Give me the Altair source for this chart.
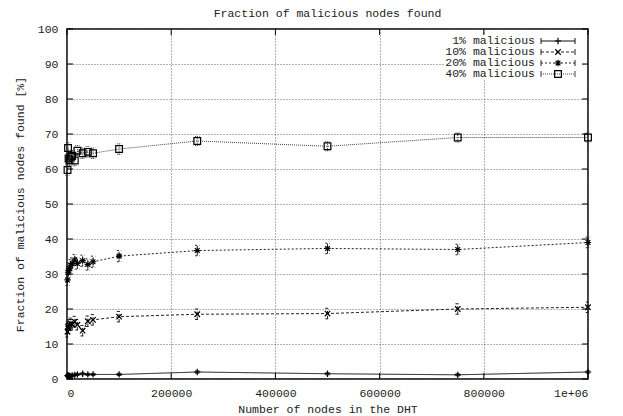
import altair as alt
import pandas as pd

# ---- data ----
nodes = [1000, 2000, 3000, 5000, 7500, 10000, 15000, 20000, 30000, 40000, 50000,
         100000, 250000, 500000, 750000, 1000000]
p1 = [1.0, 0.8, 1.0, 0.9, 0.8, 1.0, 1.2, 1.3, 1.5, 1.3, 1.3, 1.3, 2.0, 1.5, 1.2, 2.0]
p10 = [13.5, 15.0, 14.5, 15.5, 15.9, 15.5, 16.4, 15.5, 13.8, 16.5, 16.9, 17.8, 18.5, 18.7, 20.0, 20.5]
p20 = [28.3, 30.5, 31.0, 31.5, 32.5, 33.0, 34.0, 33.0, 33.8, 32.7, 33.5, 35.1, 36.7, 37.3, 37.0, 39.0]
p40 = [59.7, 66.0, 63.0, 62.5, 63.5, 63.8, 62.4, 65.2, 64.5, 64.9, 64.5, 65.7, 68.0, 66.5, 69.0, 69.0]
e1 = [0.3, 0.3, 0.3, 0.3, 0.3, 0.3, 0.3, 0.3, 0.3, 0.3, 0.3, 0.3, 0.3, 0.3, 0.3, 0.3]
e10 = [1.5, 1.5, 1.5, 1.5, 1.5, 1.5, 1.5, 1.5, 1.5, 1.5, 1.5, 1.5, 1.5, 1.5, 1.5, 1.5]
e20 = [1.6, 1.6, 1.6, 1.6, 1.6, 1.6, 1.6, 1.6, 1.6, 1.6, 1.6, 1.6, 1.5, 1.5, 1.5, 1.5]
e40 = [1.5, 1.5, 1.5, 1.5, 1.5, 1.5, 1.5, 1.5, 1.5, 1.5, 1.5, 1.5, 1.3, 1.3, 1.3, 1.3]
series_names = ["1% malicious", "10% malicious", "20% malicious", "40% malicious"]
x_ticks = [0, 200000, 400000, 600000, 800000, 1000000]
y_ticks = [0, 10, 20, 30, 40, 50, 60, 70, 80, 90, 100]

FONT = "Liberation Mono"
FS = 11.5
TXT = "#222"
W, H = 521, 350

values = [p1, p10, p20, p40]
errors = [e1, e10, e20, e40]
dashes = [[1, 0], [3, 2], [2, 2], [1, 1]]
strokes = ["#111", "#222", "#222", "#444"]
PLUS = "M-1,0L1,0M0,-1L0,1"
CROSS = "M-1,-1L1,1M-1,1L1,-1"
STAR = "M-1,0L1,0M0,-1L0,1M-0.75,-0.75L0.75,0.75M-0.75,0.75L0.75,-0.75"
shapes = [PLUS, CROSS, STAR, "square"]
sizes = [40, 30, 40, 45]
CAP = "M-1,0L1,0"


def xenc():
    return alt.X("nodes:Q", scale=alt.Scale(domain=[0, 1000000], nice=False),
                 axis=alt.Axis(values=x_ticks, title="Number of nodes in the DHT",
                               labelExpr="datum.value == 1000000 ? '1e+06' : format(datum.value, 'd')"))


def yenc(field):
    return alt.Y(field + ":Q", scale=alt.Scale(domain=[0, 100], nice=False),
                 axis=alt.Axis(values=y_ticks, title="Fraction of malicious nodes found [%]"))


layers = []
for name, v, e, dash, st, shp, sz in zip(series_names, values, errors, dashes, strokes, shapes, sizes):
    df = pd.DataFrame({"nodes": nodes, "value": v, "err": e})
    df["lo"] = df["value"] - df["err"]
    df["hi"] = df["value"] + df["err"]
    base = alt.Chart(df)
    layers.append(base.mark_line(stroke=st, strokeWidth=1, strokeDash=dash).encode(x=xenc(), y=yenc("value")))
    layers.append(base.mark_rule(stroke=st, strokeWidth=1, strokeDash=dash).encode(
        x=xenc(), y=yenc("lo"), y2="hi:Q"))
    for f in ["lo", "hi"]:
        layers.append(base.mark_point(shape=CAP, size=20, filled=False, stroke=st, strokeWidth=1,
                                      strokeDash=dash, opacity=1).encode(x=xenc(), y=yenc(f)))
    layers.append(base.mark_point(shape=shp, size=sz, filled=False, stroke="#000", strokeWidth=1.2,
                                  opacity=1).encode(x=xenc(), y=yenc("value")))

# opaque legend box
dummy = pd.DataFrame({"k": [0]})
layers.append(alt.Chart(dummy).mark_rect(fill="white").encode(
    x=alt.value(378), x2=alt.value(516), y=alt.value(5), y2=alt.value(50)))

# inward ticks on all four sides
xt = pd.DataFrame({"nodes": x_ticks})
yt = pd.DataFrame({"value": y_ticks})
for ya, yb in [(H, H - 6), (0, 6)]:
    layers.append(alt.Chart(xt).mark_rule(stroke="#000", strokeWidth=1).encode(
        x=xenc(), y=alt.value(ya), y2=alt.value(yb)))
for xa, xb in [(0, 6), (W, W - 6)]:
    layers.append(alt.Chart(yt).mark_rule(stroke="#000", strokeWidth=1).encode(
        y=yenc("value"), x=alt.value(xa), x2=alt.value(xb)))

# legend
for i, (name, dash, st, shp, sz) in enumerate(zip(series_names, dashes, strokes, shapes, sizes)):
    yp = 12 + 11 * i
    d = pd.DataFrame({"label": [name]})
    c = alt.Chart(d)
    layers.append(c.mark_text(align="right", baseline="middle", font=FONT, fontSize=FS, color=TXT).encode(
        x=alt.value(468), y=alt.value(yp), text="label:N"))
    layers.append(c.mark_rule(stroke=st, strokeWidth=1, strokeDash=dash).encode(
        x=alt.value(474), x2=alt.value(508), y=alt.value(yp)))
    for xe in [474, 508]:
        layers.append(c.mark_rule(stroke=st, strokeWidth=1).encode(
            x=alt.value(xe), y=alt.value(yp - 3), y2=alt.value(yp + 3)))
    layers.append(c.mark_point(shape=shp, size=sz, filled=False, stroke="#000", strokeWidth=1.2,
                               opacity=1).encode(x=alt.value(491), y=alt.value(yp)))

chart = alt.layer(*layers).properties(
    width=W, height=H,
    title=alt.TitleParams("Fraction of malicious nodes found", font=FONT, fontSize=FS,
                          fontWeight="normal", color=TXT, offset=4, anchor="middle"),
    autosize=alt.AutoSizeParams(type="none"),
    padding={"left": 59, "top": 21, "right": 20, "bottom": 37},
).configure_view(
    stroke="#000", strokeWidth=1.5
).configure_axis(
    labelFont=FONT, titleFont=FONT, labelFontSize=FS, titleFontSize=FS,
    labelColor=TXT, titleColor=TXT, titleFontWeight="normal",
    ticks=False, domain=False,
    grid=True, gridColor="#666", gridDash=[1, 2], gridWidth=1,
).configure_axisX(
    labelPadding=8, titlePadding=5
).configure_axisY(
    labelPadding=9, titlePadding=12
)

chart.save("out.html", embed_options={"renderer": "svg", "actions": False})
